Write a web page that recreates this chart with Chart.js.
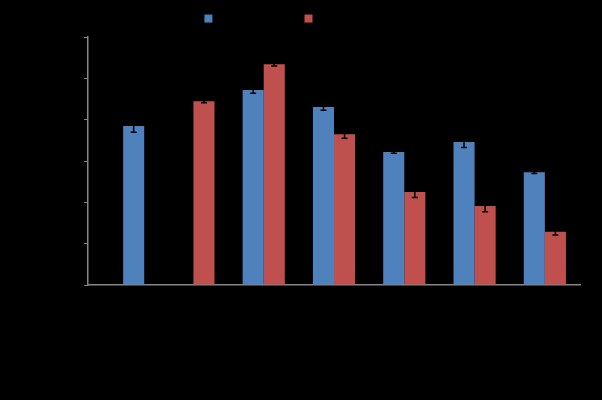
<!DOCTYPE html>
<html>
<head>
<meta charset="utf-8">
<script src="https://cdn.jsdelivr.net/npm/chart.js@4.4.0/dist/chart.umd.min.js"></script>
<style>
  html, body { margin: 0; padding: 0; background: #000; }
  #wrap { width: 602px; height: 400px; }
</style>
</head>
<body>
<div id="wrap"><canvas id="chart" width="602" height="400"></canvas></div>
<script>
// Данные графика
const categories = ['1', '2', '3', '4', '5', '6', '7'];
const seriesNames = ['Sample series 1', 'Sample series 2'];
const blueValues = [38.5, null, 47.2, 43.1, 32.2, 34.6, 27.3];
const blueErrors = [1.5, null, 0.8, 0.8, 0.3, 1.3, 0.3];
const redValues = [null, 44.5, 53.4, 36.5, 22.5, 19.1, 12.9];
const redErrors = [null, 0.4, 0.4, 1.0, 1.3, 1.4, 0.8];
const yTicks = [0, 10, 20, 30, 40, 50, 60];

const BLUE = '#4F81BD';
const RED = '#C0504D';
const AXIS = '#868686';

// В первой группе синий столбик стоит на месте второго ряда
const leftData = blueValues.map((v, i) => (redValues[i] == null ? null : v));
const leftErr = blueErrors.map((e, i) => (redValues[i] == null ? null : e));
const rightData = redValues.map((v, i) => (v == null ? blueValues[i] : v));
const rightErr = redErrors.map((e, i) => (redValues[i] == null ? blueErrors[i] : e));
const rightColors = redValues.map(v => (v == null ? BLUE : RED));

// Планки погрешностей
const errorBars = {
    id: 'errorBars',
    afterDatasetsDraw(chart) {
        const ctx = chart.ctx;
        const y = chart.scales.y;
        ctx.save();
        ctx.strokeStyle = '#000';
        ctx.lineWidth = 1.5;
        chart.data.datasets.forEach((ds, di) => {
            const meta = chart.getDatasetMeta(di);
            meta.data.forEach((bar, i) => {
                const v = ds.data[i];
                const e = ds.errors[i];
                if (v == null || e == null) return;
                const top = y.getPixelForValue(v + e);
                const bot = y.getPixelForValue(v - e);
                ctx.beginPath();
                ctx.moveTo(bar.x, top);
                ctx.lineTo(bar.x, bot);
                ctx.moveTo(bar.x - 3, top);
                ctx.lineTo(bar.x + 3, top);
                ctx.moveTo(bar.x - 3, bot);
                ctx.lineTo(bar.x + 3, bot);
                ctx.stroke();
            });
        });
        ctx.restore();
    }
};

new Chart(document.getElementById('chart').getContext('2d'), {
    type: 'bar',
    data: {
        labels: categories,
        datasets: [{
            label: seriesNames[0],
            data: leftData,
            errors: leftErr,
            backgroundColor: BLUE
        }, {
            label: seriesNames[1],
            data: rightData,
            errors: rightErr,
            backgroundColor: rightColors
        }]
    },
    options: {
        responsive: false,
        animation: false,
        categoryPercentage: 0.6,
        barPercentage: 1.0,
        layout: { padding: { top: 6, right: 0, left: 0, bottom: 0 } },
        plugins: {
            tooltip: { enabled: false },
            legend: {
                position: 'top',
                labels: {
                    color: '#000',
                    boxWidth: 8,
                    boxHeight: 8,
                    padding: 7,
                    font: { family: 'Liberation Sans', size: 11.1, lineHeight: 1.8 },
                    generateLabels: chart => seriesNames.map((n, i) => ({
                        text: n,
                        fillStyle: i === 0 ? BLUE : RED,
                        strokeStyle: i === 0 ? BLUE : RED,
                        lineWidth: 0,
                        datasetIndex: i
                    }))
                }
            }
        },
        scales: {
            x: {
                grid: { display: false },
                border: { color: AXIS, width: 1.5 },
                ticks: { color: '#000', font: { family: 'Liberation Sans', size: 12 } },
                afterFit: s => { s.height = 115; }
            },
            // зазор между легендой и областью графика
            xTop: {
                type: 'linear',
                position: 'top',
                min: 0,
                max: 1,
                grid: { display: false },
                border: { display: false },
                ticks: { display: false },
                afterFit: s => { s.height = 3; }
            },
            y: {
                min: yTicks[0],
                max: yTicks[yTicks.length - 1],
                afterBuildTicks: s => { s.ticks = yTicks.map(v => ({ value: v })); },
                grid: { drawOnChartArea: false, tickLength: 4, color: AXIS },
                border: { color: AXIS, width: 1.5 },
                ticks: { color: '#000', font: { family: 'Liberation Sans', size: 12 } },
                afterFit: s => { s.width = 88; }
            },
            // пустое место справа от области графика
            yRight: {
                position: 'right',
                min: 0,
                max: 1,
                grid: { display: false },
                border: { display: false },
                ticks: { display: false },
                afterFit: s => { s.width = 22; }
            }
        }
    },
    plugins: [errorBars]
});
</script>
</body>
</html>
